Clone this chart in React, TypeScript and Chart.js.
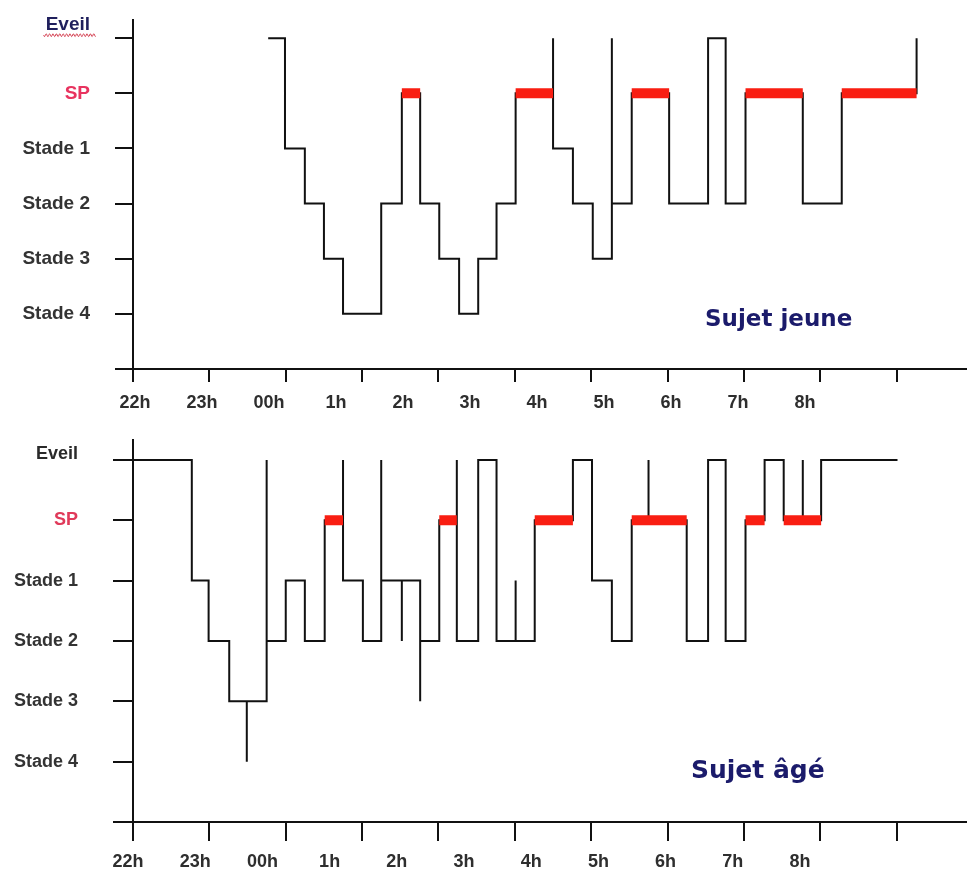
import React, { useEffect, useRef } from 'react';
import { Chart, registerables } from 'chart.js';

Chart.register(...registerables);

// Stage codes (y values)
const S4 = 0, S3 = 1, S2 = 2, S1 = 3, SP = 4, EV = 5;
const STAGE_LABELS = ['Stade 4', 'Stade 3', 'Stade 2', 'Stade 1', 'SP', 'Eveil'];
const STAGE_TICKS = [-1, 0, 1, 2, 3, 4, 5];

// Hour ticks (hours after 22h) and the printed time labels
const HOUR_TICKS = [0, 1, 2, 3, 4, 5, 6, 7, 8, 9, 10];
const TIME_LABELS = ['22h', '23h', '00h', '1h', '2h', '3h', '4h', '5h', '6h', '7h', '8h'];

// Sujet jeune: epoch start times (hours after 22h) and stage entered
const YOUNG_TIMES = [1.77, 1.99, 2.25, 2.5, 2.75, 3.25, 3.52, 3.76, 4.01, 4.27, 4.52, 4.76, 5.01, 5.5, 5.5, 5.76, 6.02, 6.27, 6.27, 6.53, 7.02, 7.53, 7.76, 8.02, 8.77, 9.28, 10.26];
const YOUNG_STAGES = [EV, S1, S2, S3, S4, S2, SP, S2, S3, S4, S3, S2, SP, EV, S1, S2, S3, EV, S2, SP, S2, EV, S2, SP, S2, SP, EV];

// Sujet âgé
const OLD_TIMES = [0, 0.77, 0.99, 1.26, 1.49, 1.49, 1.75, 1.75, 2.0, 2.25, 2.51, 2.75, 2.75, 3.01, 3.25, 3.25, 3.52, 3.52, 3.76, 3.76, 4.01, 4.24, 4.24, 4.52, 4.76, 5.01, 5.01, 5.26, 5.76, 6.01, 6.27, 6.53, 6.75, 6.75, 7.25, 7.53, 7.76, 8.02, 8.27, 8.52, 8.77, 8.77, 9.01, 10.01];
const OLD_STAGES = [EV, S1, S2, S3, S4, S3, EV, S2, S1, S2, SP, EV, S1, S2, EV, S1, S2, S1, S3, S2, SP, EV, S2, EV, S2, S1, S2, SP, EV, S1, S2, SP, EV, SP, S2, EV, S2, SP, EV, SP, EV, SP, EV, EV];

const Y_FONT = '"Liberation Sans", Arial, sans-serif';
const X_FONT = '"Liberation Sans", Arial, sans-serif';

type Opts = {
  padTop: number;
  xTick: number;
  x2Height: number;
  x2Pad: number;
  x2Min: number;
  x2Max: number;
  yTick: number;
  yPad: number;
  yFontSize: number;
  eveilColor: string;
  eveilLH: number;
  spColor: string;
  wavy: boolean;
};

function buildConfig(times: number[], stages: number[], o: Opts): any {
  const hyp = times.map((t, i) => ({ x: t, y: stages[i] }));
  const sp: any[] = [];
  for (let i = 0; i < stages.length - 1; i++) {
    if (stages[i] === SP) {
      sp.push({ x: times[i], y: SP }, { x: times[i + 1], y: SP }, { x: times[i + 1], y: null });
    }
  }
  const wavyPlugin = {
    id: 'wavy',
    afterDraw(chart: any) {
      if (!o.wavy) return;
      const y = chart.scales.y;
      const ctx = chart.ctx;
      ctx.save();
      ctx.font = `bold ${o.yFontSize}px ${Y_FONT}`;
      const w = ctx.measureText('Eveil').width;
      const right = y.right - o.yTick - o.yPad;
      const x0 = right - w - 2;
      const x1 = right + 6;
      const base = y.getPixelForValue(EV) - 3;
      ctx.beginPath();
      for (let x = x0; x <= x1; x += 0.5) {
        const yy = base + 1.4 * Math.sin(((x - x0) / 3.4) * 2 * Math.PI);
        if (x === x0) ctx.moveTo(x, yy);
        else ctx.lineTo(x, yy);
      }
      ctx.strokeStyle = '#d23a4c';
      ctx.lineWidth = 1;
      ctx.stroke();
      ctx.restore();
    },
  };
  return {
    type: 'line',
    data: {
      datasets: [
        {
          data: sp,
          borderColor: '#f91e12',
          borderWidth: 10,
          borderCapStyle: 'butt',
          pointRadius: 0,
          spanGaps: false,
          tension: 0,
        },
        {
          data: hyp,
          borderColor: '#111111',
          borderWidth: 2,
          stepped: 'before',
          pointRadius: 0,
          borderJoinStyle: 'miter',
          tension: 0,
        },
      ],
    },
    options: {
      animation: false,
      responsive: false,
      devicePixelRatio: 1,
      events: [],
      layout: { padding: { top: o.padTop, left: 0, right: 0, bottom: 0 } },
      plugins: {
        legend: { display: false },
        tooltip: { enabled: false },
        title: { display: false },
      },
      scales: {
        x: {
          type: 'linear',
          position: 'bottom',
          weight: 0,
          min: 0,
          max: 10.92,
          afterBuildTicks: (s: any) => {
            s.ticks = HOUR_TICKS.map((v) => ({ value: v }));
          },
          afterFit: (s: any) => {
            s.height = o.xTick;
          },
          grid: {
            display: true,
            drawOnChartArea: false,
            drawTicks: true,
            tickLength: o.xTick,
            color: '#111111',
            lineWidth: 2,
          },
          border: { display: true, color: '#111111', width: 2 },
          ticks: { display: false },
        },
        x2: {
          type: 'linear',
          position: 'bottom',
          weight: 1,
          min: o.x2Min,
          max: o.x2Max,
          afterBuildTicks: (s: any) => {
            s.ticks = TIME_LABELS.map((_, i) => ({ value: i }));
          },
          afterFit: (s: any) => {
            s.height = o.x2Height;
            s.paddingLeft = 0;
            s.paddingRight = 0;
          },
          grid: { display: false },
          border: { display: false },
          ticks: {
            autoSkip: false,
            maxRotation: 0,
            minRotation: 0,
            padding: o.x2Pad,
            color: '#2e2e2e',
            font: { family: X_FONT, size: 18, weight: 'bold' },
            callback: (v: any) => TIME_LABELS[v] ?? '',
          },
        },
        y: {
          type: 'linear',
          position: 'left',
          min: -1,
          max: 5.33,
          afterBuildTicks: (s: any) => {
            s.ticks = STAGE_TICKS.map((v) => ({ value: v }));
          },
          afterFit: (s: any) => {
            s.width = 133;
            s.paddingTop = 0;
            s.paddingBottom = 0;
          },
          grid: {
            display: true,
            drawOnChartArea: false,
            drawTicks: true,
            tickLength: o.yTick,
            color: '#111111',
            lineWidth: 2,
          },
          border: { display: true, color: '#111111', width: 2 },
          ticks: {
            autoSkip: false,
            padding: o.yPad,
            color: (c: any) => {
              const v = c.tick ? c.tick.value : 0;
              if (v === EV) return o.eveilColor;
              if (v === SP) return o.spColor;
              return '#333333';
            },
            font: (c: any) => {
              const v = c.tick ? c.tick.value : 0;
              return {
                family: Y_FONT,
                size: o.yFontSize,
                weight: 'bold',
                lineHeight: v === EV ? o.eveilLH : 1.2,
              };
            },
            callback: (v: any) => {
              if (v === EV) return ['Eveil', ''];
              return STAGE_LABELS[v] ?? '';
            },
          },
        },
      },
    },
    plugins: [wavyPlugin],
  };
}

function SleepChart(props: { times: number[]; stages: number[]; opts: Opts; top: number; height: number }) {
  const ref = useRef<HTMLCanvasElement>(null);
  useEffect(() => {
    const chart = new Chart(ref.current as HTMLCanvasElement, buildConfig(props.times, props.stages, props.opts));
    return () => chart.destroy();
  }, []);
  return (
    <canvas
      ref={ref}
      width={967}
      height={props.height}
      style={{ position: 'absolute', left: 0, top: props.top, display: 'block' }}
    />
  );
}

const TOP_OPTS: Opts = {
  padTop: 20,
  xTick: 13,
  x2Height: 48,
  x2Pad: 2,
  x2Min: -0.03,
  x2Max: 12.42,
  yTick: 18,
  yPad: 25,
  yFontSize: 19,
  eveilColor: '#1f1f5c',
  eveilLH: 1.4,
  spColor: '#e8335f',
  wavy: true,
};

const BOTTOM_OPTS: Opts = {
  padTop: 10,
  xTick: 19,
  x2Height: 35,
  x2Pad: 2,
  x2Min: 0.074,
  x2Max: 12.485,
  yTick: 20,
  yPad: 35,
  yFontSize: 18,
  eveilColor: '#2a2a2a',
  eveilLH: 0.7,
  spColor: '#e03a5a',
  wavy: false,
};

const titleStyle: React.CSSProperties = {
  position: 'absolute',
  fontFamily: '"DejaVu Sans", Verdana, sans-serif',
  fontWeight: 'bold',
  lineHeight: 1,
  color: '#1b1b6b',
  whiteSpace: 'nowrap',
};

export default function App() {
  return (
    <div style={{ position: 'absolute', left: 0, top: 0, width: 967, height: 876, background: '#ffffff', overflow: 'hidden' }}>
      <SleepChart times={YOUNG_TIMES} stages={YOUNG_STAGES} opts={TOP_OPTS} top={0} height={430} />
      <SleepChart times={OLD_TIMES} stages={OLD_STAGES} opts={BOTTOM_OPTS} top={430} height={446} />
      <div style={{ ...titleStyle, fontSize: 23, left: 705, top: 307 }}>Sujet jeune</div>
      <div style={{ ...titleStyle, fontSize: 25, left: 691, top: 757 }}>Sujet âgé</div>
    </div>
  );
}
